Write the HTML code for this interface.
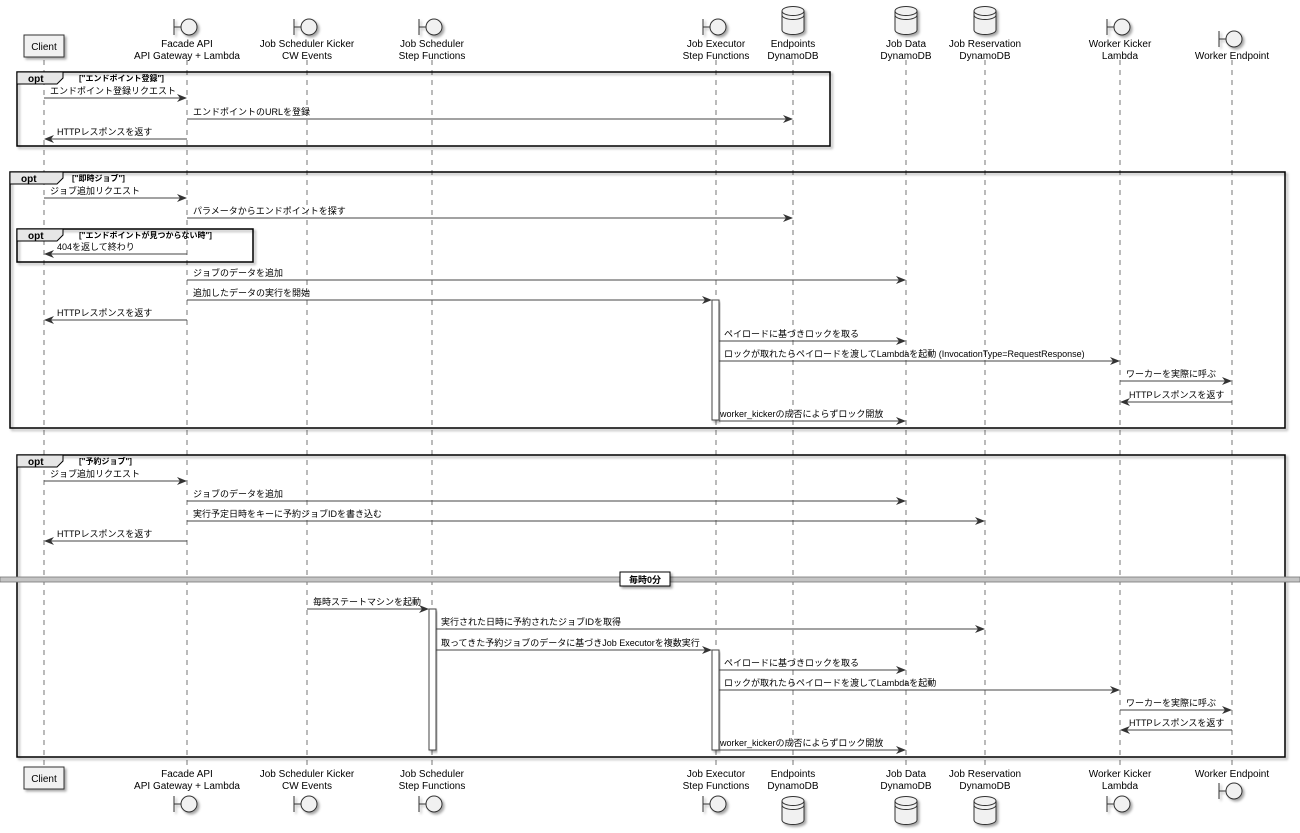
<!DOCTYPE html>
<html><head><meta charset="utf-8"><style>
html,body{margin:0;padding:0;background:#fff;}
svg{display:block;}
text{font-family:"Liberation Sans","Noto Sans CJK JP",sans-serif;fill:#000;}
.m{font-size:9px;}
.h{font-size:10px;}
.ll{stroke:#555;stroke-width:0.8;stroke-dasharray:5,5;}
.a{stroke:#444;stroke-width:0.9;fill:none;}
.fr{fill:none;stroke:#000;stroke-width:1.5;}
.ic{fill:#f1f1f1;stroke:#333;stroke-width:1;}
</style></head><body>
<svg width="1300" height="833" viewBox="0 0 1300 833" xmlns="http://www.w3.org/2000/svg">
<defs>
<marker id="ar" markerWidth="10" markerHeight="8" refX="9" refY="4" orient="auto" markerUnits="userSpaceOnUse"><path d="M0,0 L10,4 L0,8 L3,4 Z" fill="#333"/></marker>
<filter id="sh" x="-10%" y="-10%" width="130%" height="140%"><feDropShadow dx="2" dy="2" stdDeviation="1.2" flood-color="#000" flood-opacity="0.35"/></filter>
</defs>

<g class="ll">
<line x1="44" y1="60" x2="44" y2="765"/>
<line x1="187" y1="60" x2="187" y2="765"/>
<line x1="307" y1="60" x2="307" y2="765"/>
<line x1="432" y1="60" x2="432" y2="765"/>
<line x1="716" y1="60" x2="716" y2="765"/>
<line x1="793" y1="60" x2="793" y2="765"/>
<line x1="906" y1="60" x2="906" y2="765"/>
<line x1="985" y1="60" x2="985" y2="765"/>
<line x1="1120" y1="60" x2="1120" y2="765"/>
<line x1="1232" y1="60" x2="1232" y2="765"/>
</g>

<g>
<rect x="24" y="35" width="40" height="22" fill="#f1f1f1" stroke="#333" filter="url(#sh)"/>
<text x="44" y="50" class="h" text-anchor="middle">Client</text>
<rect x="24" y="767" width="40" height="22" fill="#f1f1f1" stroke="#333" filter="url(#sh)"/>
<text x="44" y="782" class="h" text-anchor="middle">Client</text>
</g>
<g class="ic" filter="url(#sh)">
<line x1="174" y1="19" x2="174" y2="35"/><line x1="174" y1="27" x2="181" y2="27"/><circle cx="189" cy="27" r="8"/>
<line x1="294" y1="19" x2="294" y2="35"/><line x1="294" y1="27" x2="301" y2="27"/><circle cx="309" cy="27" r="8"/>
<line x1="419" y1="19" x2="419" y2="35"/><line x1="419" y1="27" x2="426" y2="27"/><circle cx="434" cy="27" r="8"/>
<line x1="703" y1="19" x2="703" y2="35"/><line x1="703" y1="27" x2="710" y2="27"/><circle cx="718" cy="27" r="8"/>
<line x1="1107" y1="19" x2="1107" y2="35"/><line x1="1107" y1="27" x2="1114" y2="27"/><circle cx="1122" cy="27" r="8"/>
<line x1="1219" y1="31" x2="1219" y2="47"/><line x1="1219" y1="39" x2="1226" y2="39"/><circle cx="1234" cy="39" r="8"/>
</g>
<g class="ic" filter="url(#sh)">
<path d="M782,11 v19 a11,4.5 0 0 0 22,0 v-19 a11,4.5 0 0 0 -22,0 a11,4.5 0 0 0 22,0 M782,15 a11,4.5 0 0 0 22,0"/>
<path d="M895,11 v19 a11,4.5 0 0 0 22,0 v-19 a11,4.5 0 0 0 -22,0 a11,4.5 0 0 0 22,0 M895,15 a11,4.5 0 0 0 22,0"/>
<path d="M974,11 v19 a11,4.5 0 0 0 22,0 v-19 a11,4.5 0 0 0 -22,0 a11,4.5 0 0 0 22,0 M974,15 a11,4.5 0 0 0 22,0"/>
</g>
<g class="h" text-anchor="middle">
<text x="187" y="47">Facade API</text><text x="187" y="59">API Gateway + Lambda</text>
<text x="307" y="47">Job Scheduler Kicker</text><text x="307" y="59">CW Events</text>
<text x="432" y="47">Job Scheduler</text><text x="432" y="59">Step Functions</text>
<text x="716" y="47">Job Executor</text><text x="716" y="59">Step Functions</text>
<text x="793" y="47">Endpoints</text><text x="793" y="59">DynamoDB</text>
<text x="906" y="47">Job Data</text><text x="906" y="59">DynamoDB</text>
<text x="985" y="47">Job Reservation</text><text x="985" y="59">DynamoDB</text>
<text x="1120" y="47">Worker Kicker</text><text x="1120" y="59">Lambda</text>
<text x="1232" y="59">Worker Endpoint</text>
</g>
<g class="h" text-anchor="middle">
<text x="187" y="777">Facade API</text><text x="187" y="789">API Gateway + Lambda</text>
<text x="307" y="777">Job Scheduler Kicker</text><text x="307" y="789">CW Events</text>
<text x="432" y="777">Job Scheduler</text><text x="432" y="789">Step Functions</text>
<text x="716" y="777">Job Executor</text><text x="716" y="789">Step Functions</text>
<text x="793" y="777">Endpoints</text><text x="793" y="789">DynamoDB</text>
<text x="906" y="777">Job Data</text><text x="906" y="789">DynamoDB</text>
<text x="985" y="777">Job Reservation</text><text x="985" y="789">DynamoDB</text>
<text x="1120" y="777">Worker Kicker</text><text x="1120" y="789">Lambda</text>
<text x="1232" y="777">Worker Endpoint</text>
</g>
<g class="ic" filter="url(#sh)">
<line x1="174" y1="796" x2="174" y2="812"/><line x1="174" y1="804" x2="181" y2="804"/><circle cx="189" cy="804" r="8"/>
<line x1="294" y1="796" x2="294" y2="812"/><line x1="294" y1="804" x2="301" y2="804"/><circle cx="309" cy="804" r="8"/>
<line x1="419" y1="796" x2="419" y2="812"/><line x1="419" y1="804" x2="426" y2="804"/><circle cx="434" cy="804" r="8"/>
<line x1="703" y1="796" x2="703" y2="812"/><line x1="703" y1="804" x2="710" y2="804"/><circle cx="718" cy="804" r="8"/>
<line x1="1107" y1="796" x2="1107" y2="812"/><line x1="1107" y1="804" x2="1114" y2="804"/><circle cx="1122" cy="804" r="8"/>
<line x1="1219" y1="783" x2="1219" y2="799"/><line x1="1219" y1="791" x2="1226" y2="791"/><circle cx="1234" cy="791" r="8"/>
<path d="M782,801 v19 a11,4.5 0 0 0 22,0 v-19 a11,4.5 0 0 0 -22,0 a11,4.5 0 0 0 22,0 M782,805 a11,4.5 0 0 0 22,0"/>
<path d="M895,801 v19 a11,4.5 0 0 0 22,0 v-19 a11,4.5 0 0 0 -22,0 a11,4.5 0 0 0 22,0 M895,805 a11,4.5 0 0 0 22,0"/>
<path d="M974,801 v19 a11,4.5 0 0 0 22,0 v-19 a11,4.5 0 0 0 -22,0 a11,4.5 0 0 0 22,0 M974,805 a11,4.5 0 0 0 22,0"/>
</g>

<g filter="url(#sh)">
<rect x="17" y="72" width="813" height="74" class="fr"/>
<rect x="10" y="172" width="1275" height="256" class="fr"/>
<rect x="17" y="229" width="236" height="33" class="fr"/>
<rect x="17" y="455" width="1268" height="302" class="fr"/>
</g>
<g fill="#e6e6e6" stroke="#000" stroke-width="1">
<path d="M17,72 H63 V78 L57,84 H17 Z"/>
<path d="M10,172 H63 V178 L57,184 H10 Z"/>
<path d="M17,229 H63 V235 L57,241 H17 Z"/>
<path d="M17,455 H63 V461 L57,467 H17 Z"/>
</g>
<g style="font-size:10px;font-weight:bold">
<text x="28" y="82">opt</text><text x="21" y="182">opt</text><text x="28" y="239">opt</text><text x="28" y="465">opt</text>
</g>
<g style="font-size:8px;font-weight:bold">
<text x="79" y="81">["エンドポイント登録"]</text>
<text x="72" y="181">["即時ジョブ"]</text>
<text x="79" y="238">["エンドポイントが見つからない時"]</text>
<text x="79" y="464">["予約ジョブ"]</text>
</g>

<rect x="0" y="577" width="1300" height="5" fill="#c4c4c4" stroke="#777" stroke-width="0.8"/>
<rect x="620" y="572" width="50" height="14" fill="#fff" stroke="#000" filter="url(#sh)"/>
<text x="645" y="583" text-anchor="middle" style="font-size:9px;font-weight:bold">毎時0分</text>

<rect x="712" y="300" width="7" height="120" fill="#fff" stroke="#444" filter="url(#sh)"/>
<rect x="429" y="609" width="7" height="141" fill="#fff" stroke="#444" filter="url(#sh)"/>
<rect x="712" y="650" width="7" height="100" fill="#fff" stroke="#444" filter="url(#sh)"/>

<g class="a" marker-end="url(#ar)">
<line x1="44" y1="98" x2="186" y2="98"/>
<line x1="187" y1="119" x2="792" y2="119"/>
<line x1="187" y1="139" x2="45" y2="139"/>
<line x1="44" y1="198" x2="186" y2="198"/>
<line x1="187" y1="218" x2="792" y2="218"/>
<line x1="187" y1="254" x2="45" y2="254"/>
<line x1="187" y1="280" x2="905" y2="280"/>
<line x1="187" y1="300" x2="711" y2="300"/>
<line x1="187" y1="320" x2="45" y2="320"/>
<line x1="719" y1="341" x2="905" y2="341"/>
<line x1="719" y1="361" x2="1119" y2="361"/>
<line x1="1120" y1="381" x2="1231" y2="381"/>
<line x1="1232" y1="402" x2="1121" y2="402"/>
<line x1="719" y1="421" x2="905" y2="421"/>
<line x1="44" y1="481" x2="186" y2="481"/>
<line x1="187" y1="501" x2="905" y2="501"/>
<line x1="187" y1="521" x2="984" y2="521"/>
<line x1="187" y1="541" x2="45" y2="541"/>
<line x1="307" y1="609" x2="428" y2="609"/>
<line x1="436" y1="629" x2="984" y2="629"/>
<line x1="436" y1="650" x2="711" y2="650"/>
<line x1="719" y1="670" x2="905" y2="670"/>
<line x1="719" y1="690" x2="1119" y2="690"/>
<line x1="1120" y1="710" x2="1231" y2="710"/>
<line x1="1232" y1="730" x2="1121" y2="730"/>
<line x1="719" y1="750" x2="905" y2="750"/>
</g>
<g class="m">
<text x="50" y="94">エンドポイント登録リクエスト</text>
<text x="193" y="115">エンドポイントのURLを登録</text>
<text x="57" y="135">HTTPレスポンスを返す</text>
<text x="50" y="194">ジョブ追加リクエスト</text>
<text x="193" y="214">パラメータからエンドポイントを探す</text>
<text x="57" y="250">404を返して終わり</text>
<text x="193" y="276">ジョブのデータを追加</text>
<text x="193" y="296">追加したデータの実行を開始</text>
<text x="57" y="316">HTTPレスポンスを返す</text>
<text x="724" y="337">ペイロードに基づきロックを取る</text>
<text x="724" y="357">ロックが取れたらペイロードを渡してLambdaを起動 (InvocationType=RequestResponse)</text>
<text x="1126" y="377">ワーカーを実際に呼ぶ</text>
<text x="1129" y="398">HTTPレスポンスを返す</text>
<text x="720" y="417">worker_kickerの成否によらずロック開放</text>
<text x="50" y="477">ジョブ追加リクエスト</text>
<text x="193" y="497">ジョブのデータを追加</text>
<text x="193" y="517">実行予定日時をキーに予約ジョブIDを書き込む</text>
<text x="57" y="537">HTTPレスポンスを返す</text>
<text x="313" y="605">毎時ステートマシンを起動</text>
<text x="441" y="625">実行された日時に予約されたジョブIDを取得</text>
<text x="441" y="646">取ってきた予約ジョブのデータに基づきJob Executorを複数実行</text>
<text x="724" y="666">ペイロードに基づきロックを取る</text>
<text x="724" y="686">ロックが取れたらペイロードを渡してLambdaを起動</text>
<text x="1126" y="706">ワーカーを実際に呼ぶ</text>
<text x="1129" y="726">HTTPレスポンスを返す</text>
<text x="720" y="746">worker_kickerの成否によらずロック開放</text>
</g>
</svg>
</body></html>
